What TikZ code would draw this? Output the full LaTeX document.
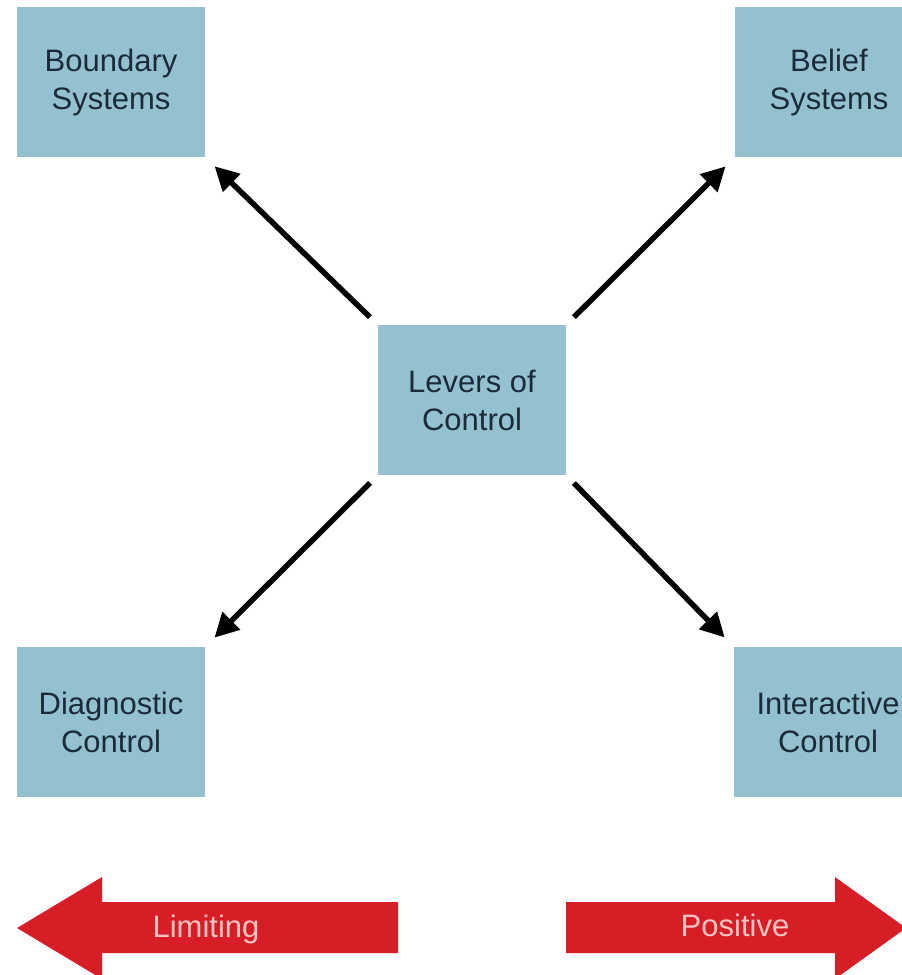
\documentclass[tikz,border=0pt]{standalone}
\usepackage{fontspec}
\setmainfont{Liberation Sans}
\usetikzlibrary{arrows.meta}
\definecolor{boxblue}{HTML}{94C1D0}
\definecolor{boxtext}{HTML}{1C2B38}
\definecolor{arrred}{HTML}{D71E27}
\definecolor{arrtext}{HTML}{F7C4C4}
\begin{document}
\begin{tikzpicture}[x=1pt,y=-1pt,
 lever/.style={fill=boxblue,text=boxtext,minimum width=188pt,minimum height=150pt,
  align=center,inner sep=0pt,font=\fontsize{31}{38}\selectfont},
 push/.style={line width=5.5pt,-{Triangle[length=24pt,width=24pt]},shorten <=11pt,shorten >=13pt},
 side/.style={text=arrtext,anchor=base,font=\fontsize{31}{36}\selectfont}]
 \useasboundingbox (0,0) rectangle (902,975);
 \clip (0,0) rectangle (902,975);
 \fill[white] (0,0) rectangle (902,975);
 \node[lever] (lev) at (472,400) {Levers of\\Control};
 \node[lever] (bnd) at (111,82) {Boundary\\Systems};
 \node[lever] (bel) at (829,82) {Belief\\Systems};
 \node[lever] (dia) at (111,722) {Diagnostic\\Control};
 \node[lever] (int) at (828,722) {Interactive\\Control};
 \draw[push] (lev.north west) -- (bnd.south east);
 \draw[push] (lev.north east) -- (bel.south west);
 \draw[push] (lev.south west) -- (dia.north east);
 \draw[push] (lev.south east) -- (int.north west);
 % red arrows at the foot
 \fill[arrred] (398,902) -- (102,902) -- (102,877) -- (17,928) -- (102,979)
  -- (102,953) -- (398,953) -- cycle;
 \fill[arrred] (566,902) -- (835,902) -- (835,877) -- (906,928) -- (835,979)
  -- (835,953) -- (566,953) -- cycle;
 \node[side] (lim) at (206,937) {Limiting};
 \node[side] (pos) at (735,936) {Positive};
\end{tikzpicture}
\end{document}
